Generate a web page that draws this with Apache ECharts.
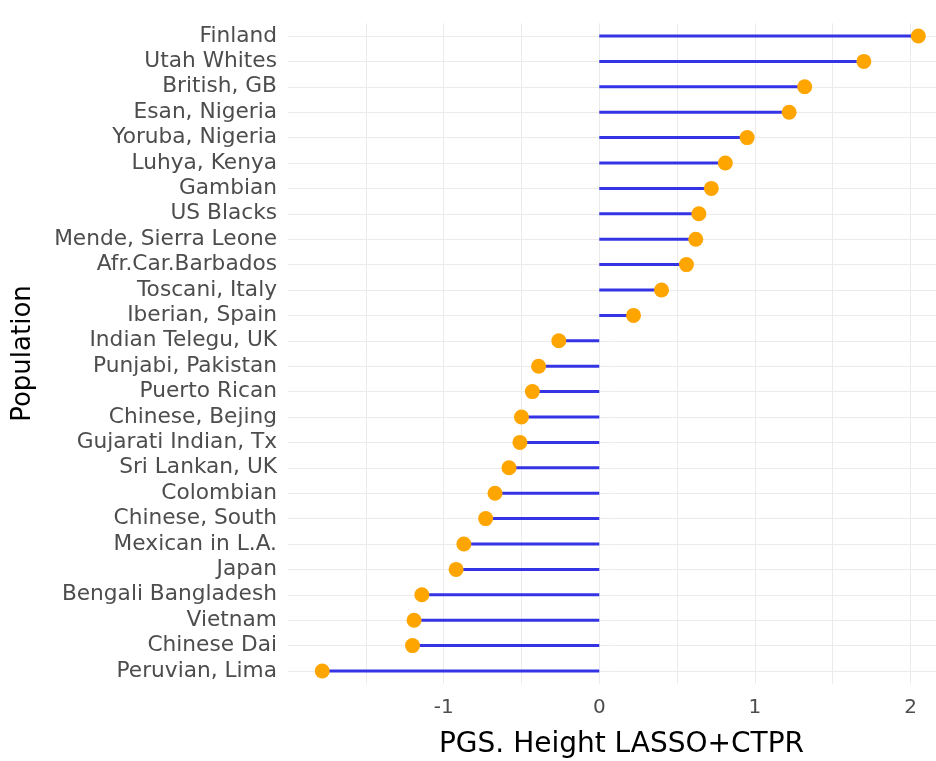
<!DOCTYPE html>
<html>
<head>
<meta charset="utf-8">
<script src="https://cdn.jsdelivr.net/npm/echarts@6/dist/echarts.min.js"></script>
<style>
html,body{margin:0;padding:0;background:#fff;}
#chart{width:936px;height:761px;}
</style>
</head>
<body>
<div id="chart"></div>
<script>
const populations = [
  'Finland','Utah Whites','British, GB','Esan, Nigeria','Yoruba, Nigeria','Luhya, Kenya',
  'Gambian','US Blacks','Mende, Sierra Leone','Afr.Car.Barbados','Toscani, Italy','Iberian, Spain',
  'Indian Telegu, UK','Punjabi, Pakistan','Puerto Rican','Chinese, Bejing','Gujarati Indian, Tx',
  'Sri Lankan, UK','Colombian','Chinese, South','Mexican in L.A.','Japan','Bengali Bangladesh',
  'Vietnam','Chinese Dai','Peruvian, Lima'
];
const pgsValues = [
  2.05, 1.70, 1.32, 1.22, 0.95, 0.81,
  0.72, 0.64, 0.62, 0.56, 0.40, 0.22,
  -0.26, -0.39, -0.43, -0.50, -0.51,
  -0.58, -0.67, -0.73, -0.87, -0.92, -1.14,
  -1.19, -1.20, -1.78
];
const xTickLabels = [-1, 0, 1, 2];
const xTitle = 'PGS. Height LASSO+CTPR';
const yTitle = 'Population';

const FONT = 'DejaVu Sans';
const chart = echarts.init(document.getElementById('chart'), null, {renderer: 'canvas'});
chart.setOption({
  animation: false,
  backgroundColor: '#ffffff',
  grid: {left: 288, top: 23.3, width: 649, height: 660.4, containLabel: false, outerBoundsMode: 'none'},
  xAxis: {
    type: 'value',
    min: -2, max: 2.17, interval: 0.5,
    axisLine: {show: false},
    axisTick: {show: false},
    splitLine: {show: true, showMinLine: false, showMaxLine: false, lineStyle: {color: '#ebebeb', width: 1}},
    axisLabel: {
      margin: 14,
      color: '#4d4d4d',
      fontFamily: FONT,
      fontSize: 20,
      formatter: function (v) {
        return xTickLabels.indexOf(Math.round(v * 100) / 100) >= 0 ? String(v) : '';
      }
    },
    name: xTitle,
    nameLocation: 'middle',
    nameGap: 47,
    nameTextStyle: {color: '#000000', fontFamily: FONT, fontSize: 28, padding: [0, 0, 0, 18]}
  },
  yAxis: {
    type: 'category',
    inverse: true,
    data: populations,
    axisLine: {show: false},
    axisTick: {show: true, alignWithLabel: true, interval: 0, length: 4, lineStyle: {color: '#c8c8c8'}},
    splitLine: {show: false},
    axisLabel: {interval: 0, margin: 11, color: '#4d4d4d', fontFamily: FONT, fontSize: 21.7},
    name: yTitle,
    nameLocation: 'middle',
    nameRotate: 90,
    nameGap: 252,
    nameTextStyle: {color: '#000000', fontFamily: FONT, fontSize: 26}
  },
  series: [
    {
      type: 'bar',
      data: pgsValues,
      barWidth: 3,
      z: 3,
      itemStyle: {color: '#3434e4'},
      silent: true,
      markLine: {
        silent: true,
        z: 1,
        symbol: ['none', 'none'],
        label: {show: false},
        lineStyle: {color: '#ebebeb', width: 1, type: 'solid'},
        data: populations.map(function (p) { return {yAxis: p}; })
      }
    },
    {
      type: 'scatter',
      data: pgsValues,
      symbol: 'circle',
      symbolSize: 15,
      z: 4,
      itemStyle: {color: '#FFA500', opacity: 1},
      silent: true
    }
  ]
});
</script>
</body>
</html>
